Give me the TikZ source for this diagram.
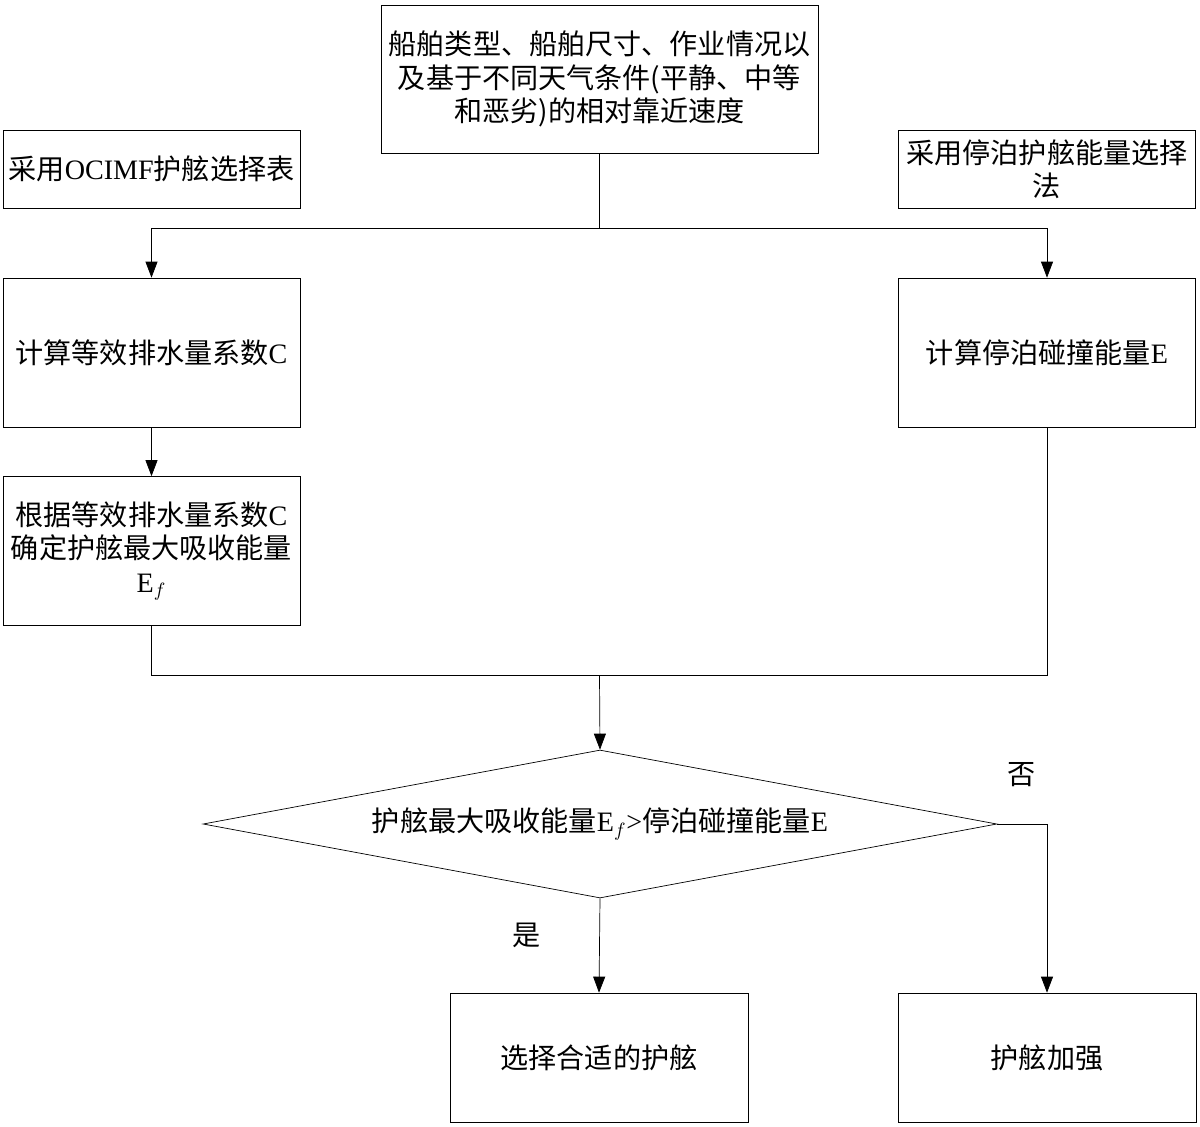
\documentclass[tikz,border=0pt]{standalone}
\usepackage{fontspec}
\setmainfont{Noto Sans CJK SC}
\newfontfamily\lat{Liberation Serif}
\usetikzlibrary{shapes.geometric,arrows.meta}
\begin{document}
\begin{tikzpicture}
[
 x=0.02cm, y=-0.02cm,
 every node/.style={font=\fontsize{16}{19}\selectfont, align=center, inner sep=0.5mm},
 BOX/.style={rectangle, draw=black, thin, minimum width=5.94cm, minimum height=2.98cm},
 SMALLBOX/.style={rectangle, draw=black, thin, minimum width=5.94cm, minimum height=1.56cm},
 DECIDE/.style={diamond, draw=black, thin, aspect=5.36, minimum width=15.88cm, minimum height=2.96cm, inner sep=0},
 LINE/.style={thin},
 ARROW/.style={thin, -{Triangle[length=3.2mm, width=2.4mm]}},
 ]
\useasboundingbox (0,0) rectangle (1200,1126);
%
\node [rectangle, draw=black, thin, minimum width=8.74cm, minimum height=2.96cm] (input) at (599.5,79)
  {船舶类型、船舶尺寸、作业情况以\\及基于不同天气条件({\lat }平静、中等\\和恶劣)的相对靠近速度};
\node [SMALLBOX] (ocimf)  at (151.5,169) {采用{\lat OCIMF}护舷选择表};
\node [SMALLBOX] (energy) at (1047,169)  {采用停泊护舷能量选择\\法};
%
\node [BOX] (calcC) at (151.5,352.5) {计算等效排水量系数{\lat C}};
\node [BOX] (calcE) at (1047,352.5)  {计算停泊碰撞能量{\lat E}};
\node [BOX] (maxEf) at (151.5,551)   {根据等效排水量系数{\lat C}\\确定护舷最大吸收能量\\{\lat E$_f$}};
%
\node [DECIDE] (check) at (600,824) {护舷最大吸收能量{\lat E$_f$>}停泊碰撞能量{\lat E}};
%
\node [rectangle, draw=black, thin, minimum width=5.96cm, minimum height=2.58cm] (select) at (599,1057.5) {选择合适的护舷};
\node [rectangle, draw=black, thin, minimum width=5.96cm, minimum height=2.58cm] (strong) at (1047,1057.5) {护舷加强};
%
\node (no)  at (1022,775) {否};
\node (yes) at (527,935)  {是};
%
\coordinate (split) at (599.5,228);
\coordinate (join)  at (599.5,675);
%
\draw [LINE]  (input.south) -- (split);
\draw [ARROW] (split) -| (calcC.north);
\draw [ARROW] (split) -| (calcE.north);
\draw [ARROW] (calcC.south) -- (maxEf.north);
\draw [LINE]  (maxEf.south) |- (join);
\draw [LINE]  (calcE.south) |- (join);
\draw [ARROW] (join) -- (check.north);
\draw [ARROW] (check.south) -- (select.north);
\draw [ARROW] (check.east) -| (strong.north);
%
\end{tikzpicture}
\end{document}
